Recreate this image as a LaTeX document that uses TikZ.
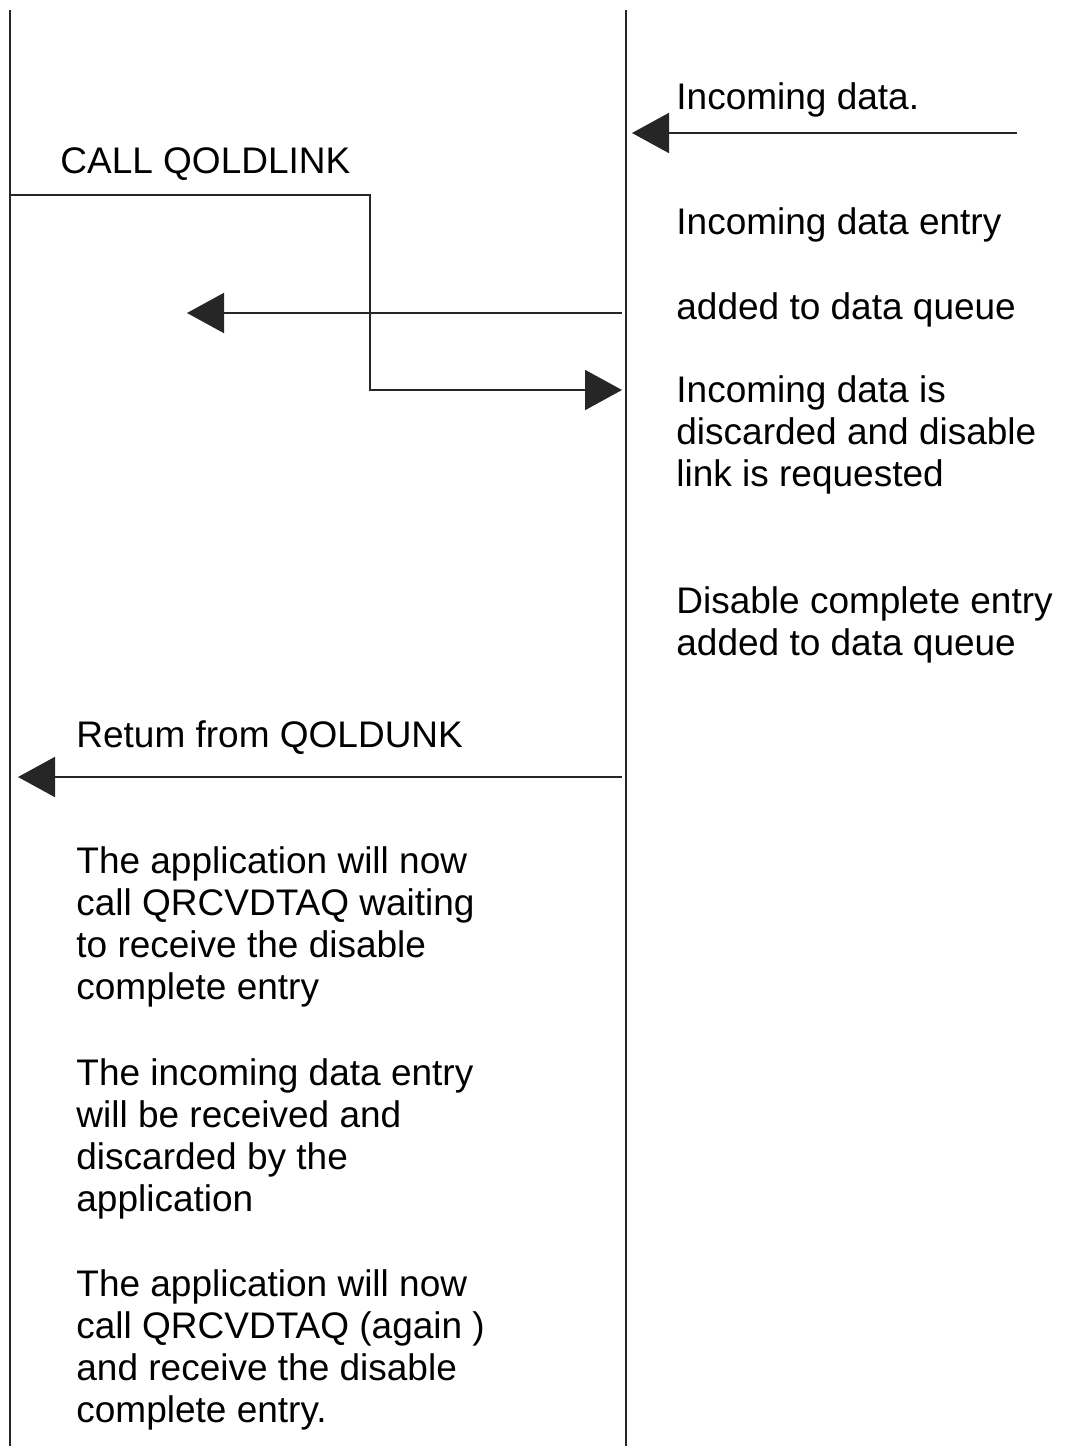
\documentclass[tikz,border=0pt]{standalone}
\usepackage{fontspec}
\setmainfont{Liberation Sans}
\usetikzlibrary{arrows.meta,positioning}
\tikzset{
  lifeline/.style={line width=1pt,black!85},
  msg/.style={line width=1pt,black!85,-{Triangle[length=18.5pt,width=20pt]}},
  note/.style={anchor=base west,inner sep=0pt,align=left,
    font=\fontsize{18.5}{21}\selectfont},
}
\begin{document}
\begin{tikzpicture}[x=.5pt,y=-.5pt]
  \useasboundingbox (0,0) rectangle (1065,1446);
  % lifelines
  \coordinate (appTop) at (10,10);
  \coordinate (appBot) at (10,1446);
  \coordinate (linkTop) at (626,10);
  \coordinate (linkBot) at (626,1446);
  \draw[lifeline] (appTop) -- (appBot);
  \draw[lifeline] (linkTop) -- (linkBot);
  % messages
  \coordinate (inSrc) at (1017,133);
  \coordinate (inTip) at (632,133);
  \draw[msg] (inSrc) -- (inTip);
  \coordinate (callSrc) at (10,195);
  \coordinate (callTip) at (622,390);
  \draw[msg] (callSrc) -| (370,390) -- (callTip);
  \coordinate (entrySrc) at (622,313);
  \coordinate (entryTip) at (187,313);
  \draw[msg] (entrySrc) -- (entryTip);
  \coordinate (retSrc) at (622,777);
  \coordinate (retTip) at (18,777);
  \draw[msg] (retSrc) -- (retTip);
  % labels (multi-line ones sit on their last baseline)
  \node[note] (inData) at (676,109) {Incoming data.};
  \node[note] (callLbl) at (60,173) {CALL QOLDLINK};
  \node[note] (entryLbl) at (676,234) {Incoming data entry};
  \node[note] (queueLbl) at (676,319) {added to data queue};
  \node[note] (discardLbl) at (676,486) {Incoming data is\\discarded and disable\\link is requested};
  \node[note] (disableLbl) at (676,655) {Disable complete entry\\added to data queue};
  \node[note] (retLbl) at (76,747) {Retum from QOLDUNK};
  \node[note] (waitLbl) at (76,999) {The application will now\\call QRCVDTAQ waiting\\to receive the disable\\complete entry};
  \node[note] (recvLbl) at (76,1211) {The incoming data entry\\will be received and\\discarded by the\\application};
  \node[note] (againLbl) at (76,1422) {The application will now\\call QRCVDTAQ (again )\\and receive the disable\\complete entry.};
\end{tikzpicture}
\end{document}
